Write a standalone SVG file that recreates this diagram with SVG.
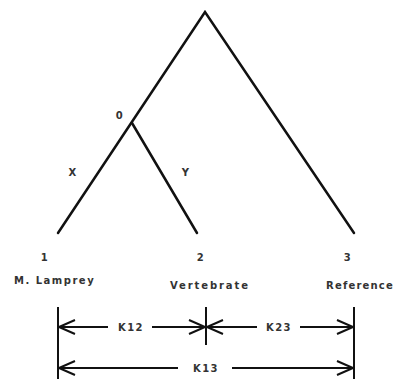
<svg xmlns="http://www.w3.org/2000/svg" width="396" height="379" viewBox="0 0 396 379">
<style>
text{font-family:"DejaVu Sans","Liberation Sans",sans-serif;font-size:10px;font-weight:bold;fill:#333;letter-spacing:1.5px}
.m{text-anchor:middle}
.w{letter-spacing:1.9px}
.tree{stroke:#111;stroke-width:2.5;fill:none;stroke-linecap:round}
.dim{stroke:#111;stroke-width:2;fill:none}
</style>
<defs>
<marker id="ah" viewBox="-20 -10 22 20" markerWidth="22" markerHeight="20" refX="0" refY="0" markerUnits="userSpaceOnUse" orient="auto">
<path d="M-16,-7 L0,0 L-16,7" fill="none" stroke="#111" stroke-width="2"/>
</marker>
</defs>
<rect width="396" height="379" fill="#fff"/>
<g id="connectors">
<path class="tree" d="M58,233 L205,12 L354,233"/>
<path class="tree" d="M132,123 L197,233"/>
<line class="dim" x1="58" y1="307" x2="58" y2="379"/>
<line class="dim" x1="206" y1="307" x2="206" y2="345"/>
<line class="dim" x1="354" y1="307" x2="354" y2="379"/>
<line class="dim" x1="108" y1="327" x2="59" y2="327" marker-end="url(#ah)"/>
<line class="dim" x1="152" y1="327" x2="205" y2="327" marker-end="url(#ah)"/>
<line class="dim" x1="257" y1="327" x2="207" y2="327" marker-end="url(#ah)"/>
<line class="dim" x1="300" y1="327" x2="353" y2="327" marker-end="url(#ah)"/>
<line class="dim" x1="178" y1="368" x2="59" y2="368" marker-end="url(#ah)"/>
<line class="dim" x1="232" y1="368" x2="353" y2="368" marker-end="url(#ah)"/>
</g>
<g id="node0"><text class="m" x="120" y="119">0</text></g>
<g id="labelX"><text class="m" x="73" y="176">X</text></g>
<g id="labelY"><text class="m" x="186" y="176">Y</text></g>
<g id="node1"><text class="m" x="45" y="261">1</text><text x="14" y="284">M.  Lamprey</text></g>
<g id="node2"><text class="m" x="201" y="261">2</text><text class="w" x="170" y="289">Vertebrate</text></g>
<g id="node3"><text class="m" x="348" y="261">3</text><text x="326" y="289" style="letter-spacing:1.2px">Reference</text></g>
<g id="k12"><text class="m" x="131" y="331">K12</text></g>
<g id="k23"><text class="m" x="279" y="331">K23</text></g>
<g id="k13"><text class="m" x="206" y="372">K13</text></g>
</svg>
